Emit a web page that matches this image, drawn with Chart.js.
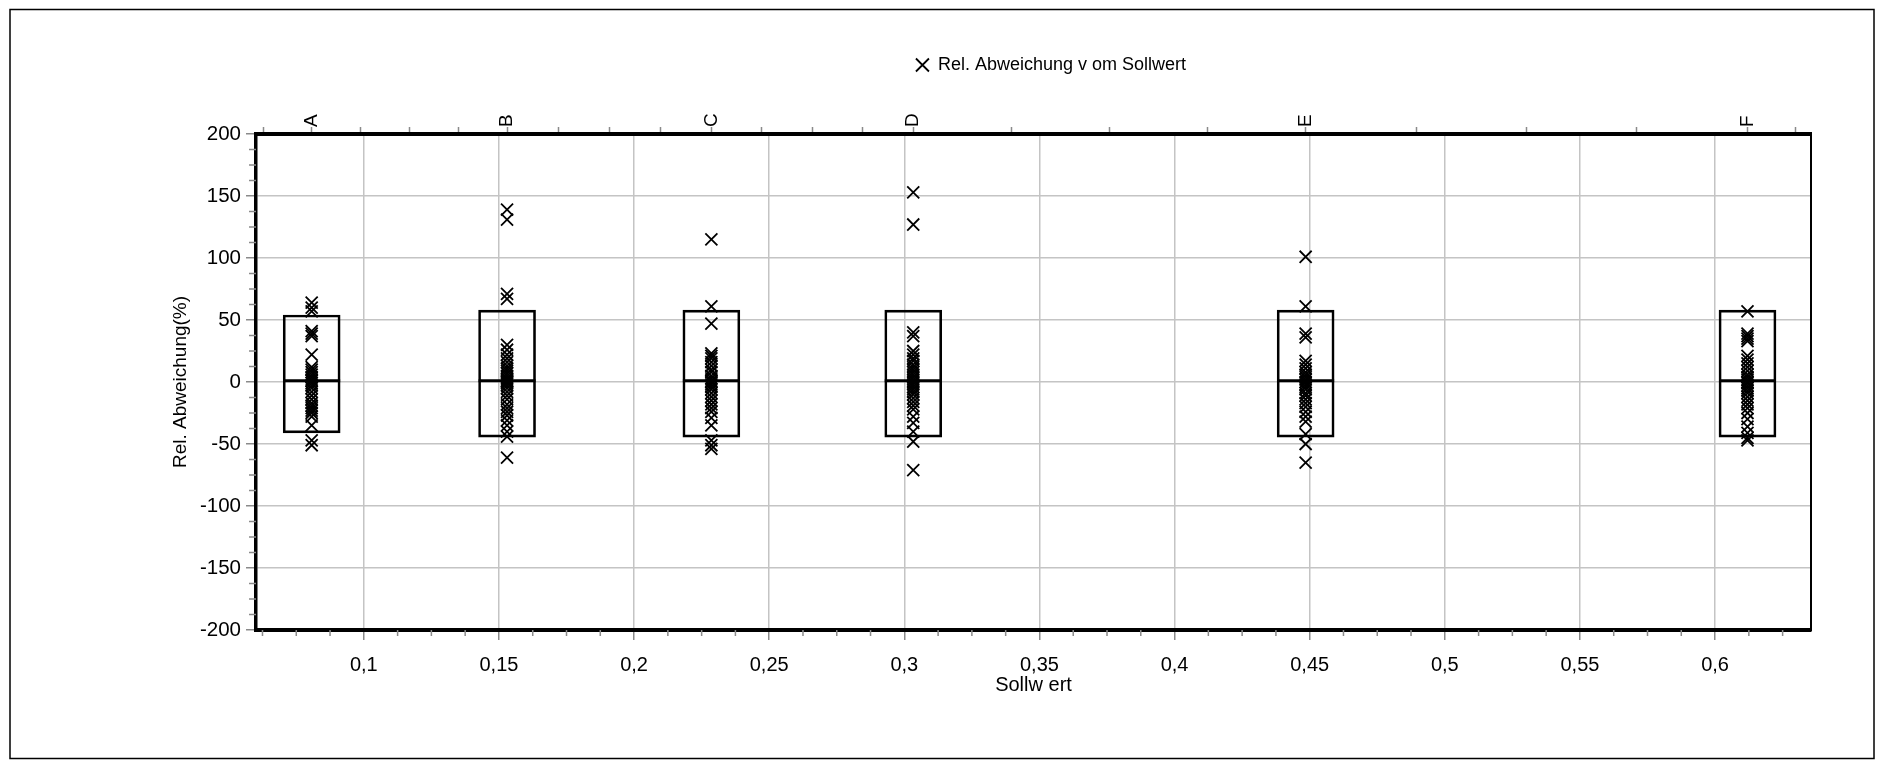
<!DOCTYPE html>
<html>
<head>
<meta charset="utf-8">
<script src="https://cdn.jsdelivr.net/npm/chart.js@4/dist/chart.umd.min.js"></script>
<style>
  html, body { margin: 0; padding: 0; background: #fff; }
  #chart { display: block; }
</style>
</head>
<body>
<canvas id="chart" width="1884" height="765"></canvas>
<script>
"use strict";

// categories (top axis) and their Sollwert positions
const categories = ["A", "B", "C", "D", "E", "F"];
const catX = [0.0807, 0.153, 0.2286, 0.3033, 0.4485, 0.612];

// relative deviation (%) per category
const devA = [64, 60, 57, 41, 39, 37, 22, 12, 10, 8, 6, 4, 2, 1, -1, -3, -5, -8, -11, -14, -17, -19, -21, -23, -25, -28, -35, -47, -51];
const devB = [139, 131, 71, 67, 30, 26, 22, 19, 16, 13, 11, 9, 7, 5, 3, 2, 1, 0, -1, -3, -5, -8, -11, -14, -18, -21, -24, -27, -31, -35, -40, -44, -61];
const devC = [115, 61, 47, 23, 21, 19, 16, 13, 10, 8, 5, 3, 1, 0, -2, -4, -6, -9, -12, -15, -18, -21, -24, -29, -35, -47, -51, -54];
const devD = [153, 127, 40, 37, 25, 22, 19, 17, 14, 12, 10, 8, 6, 4, 2, 0, -2, -4, -6, -8, -10, -13, -16, -19, -22, -28, -33, -40, -48, -71];
const devE = [101, 61, 39, 36, 17, 14, 11, 8, 6, 4, 2, 0, -2, -4, -6, -9, -11, -14, -17, -20, -24, -28, -32, -42, -50, -65];
const devF = [57, 39, 37, 35, 33, 21, 18, 15, 12, 9, 6, 4, 2, 0, -1, -3, -5, -7, -9, -12, -15, -18, -21, -25, -30, -36, -41, -45, -47];
const devAll = [devA, devB, devC, devD, devE, devF];

// boxes: lower / upper edge and median line
const boxLow = [-41, -44.5, -44.5, -44.5, -44.5, -44.5];
const boxHigh = [54, 58, 58, 58, 58, 58];
const boxMed = [1, 1, 1, 1, 1, 1];

// axes
const xTickValues = [0.1, 0.15, 0.2, 0.25, 0.3, 0.35, 0.4, 0.45, 0.5, 0.55, 0.6];
const yTickValues = [-200, -150, -100, -50, 0, 50, 100, 150, 200];
const topTickValues = [0.0629, 0.0807, 0.0988, 0.1169, 0.1349, 0.153, 0.1719, 0.1908, 0.2097, 0.2286,
  0.2473, 0.2659, 0.2846, 0.3033, 0.3396, 0.3759, 0.4122, 0.4485, 0.4894, 0.5303, 0.5711, 0.612, 0.6298];
const X_MIN = 0.0601, X_MAX = 0.6355;

const FONT = "'Liberation Sans', Arial, sans-serif";
const GRID = "#c4c4c4";
const TICK = "#8a8a8a";
const LEGEND_SHIFT = 17.5; // original legend sits a bit right of the plot centre

const markers = [];
devAll.forEach((arr, i) => arr.forEach((v) => markers.push({ x: catX[i], y: v })));
const boxes = catX.map((x, i) => ({ x, y: [boxLow[i], boxHigh[i]] }));
const medians = catX.map((x, i) => ({ x, y: boxMed[i] }));

const frame = {
  id: "frame",
  beforeDraw(c) {
    const { ctx } = c;
    ctx.save();
    ctx.fillStyle = "#fff";
    ctx.fillRect(0, 0, c.width, c.height);
    ctx.strokeStyle = "#000";
    ctx.lineWidth = 1.5;
    ctx.strokeRect(10, 9.5, 1864, 749);
    ctx.restore();
  },
};

const legendShift = {
  id: "legendShift",
  afterLayout(c) {
    if (!c.legend) return;
    c.legend.left += LEGEND_SHIFT;
    c.legend.right += LEGEND_SHIFT;
  },
};

const minorTicks = {
  id: "minorTicks",
  afterDraw(c) {
    const { ctx } = c;
    const x = c.scales.x, y = c.scales.y;
    ctx.save();
    ctx.strokeStyle = TICK;
    ctx.lineWidth = 1.5;
    ctx.beginPath();
    for (let k = 5; k <= 50; k++) {
      if (k % 4 === 0) continue;
      const px = x.getPixelForValue(k * 0.0125);
      ctx.moveTo(px, x.top);
      ctx.lineTo(px, x.top + 6);
    }
    for (let k = -16; k <= 16; k++) {
      if (k % 4 === 0) continue;
      const py = y.getPixelForValue(k * 12.5);
      ctx.moveTo(y.right - 7, py);
      ctx.lineTo(y.right, py);
    }
    ctx.stroke();
    ctx.restore();
  },
};

Chart.defaults.font.family = FONT;
Chart.defaults.color = "#000";

new Chart(document.getElementById("chart"), {
  type: "scatter",
  data: {
    datasets: [
      {
        label: "Rel. Abweichung v om Sollwert",
        data: markers,
        pointStyle: "crossRot",
        pointRadius: 8.5,
        pointHoverRadius: 8.5,
        borderColor: "#000",
        backgroundColor: "#000",
        borderWidth: 1.8,
        order: 0,
      },
      {
        label: "median",
        data: medians,
        pointStyle: "line",
        pointRadius: 28.5,
        pointHoverRadius: 28.5,
        borderColor: "#000",
        borderWidth: 3,
        order: 1,
      },
      {
        type: "bar",
        label: "box",
        data: boxes,
        barThickness: 57,
        grouped: false,
        backgroundColor: "rgba(0,0,0,0)",
        borderColor: "#000",
        borderWidth: 2,
        borderSkipped: false,
        order: 2,
      },
    ],
  },
  options: {
    responsive: false,
    animation: false,
    layout: { padding: { top: 46, left: 0, right: 0, bottom: 0 } },
    plugins: {
      tooltip: { enabled: false },
      legend: {
        position: "top",
        fullSize: false,
        labels: {
          filter: (item) => item.datasetIndex === 0,
          usePointStyle: true,
          boxWidth: 13,
          boxHeight: 13,
          padding: 10,
          color: "#000",
          font: { size: 18, family: FONT },
        },
      },
    },
    scales: {
      x: {
        type: "linear",
        position: "bottom",
        min: X_MIN,
        max: X_MAX,
        offset: false,
        afterBuildTicks: (s) => { s.ticks = xTickValues.map((v) => ({ value: v })); },
        afterFit: (s) => { s.height = 135; },
        ticks: {
          autoSkip: false,
          maxRotation: 0,
          padding: 13,
          font: { size: 20 },
          callback: (v) => String(v).replace(".", ","),
        },
        grid: { offset: false, color: GRID, lineWidth: 1.5, tickLength: 10, tickColor: TICK, tickWidth: 1.5 },
        border: { color: "#000", width: 4 },
        title: { display: true, text: "Sollw ert", font: { size: 20 }, padding: { top: 0, bottom: 68 } },
      },
      xTop: {
        type: "linear",
        position: "top",
        min: X_MIN,
        max: X_MAX,
        offset: false,
        afterBuildTicks: (s) => { s.ticks = topTickValues.map((v) => ({ value: v })); },
        afterFit: (s) => { s.height = 50; },
        ticks: {
          autoSkip: false,
          minRotation: 90,
          maxRotation: 90,
          padding: 0,
          labelOffset: 22.8,
          font: { size: 19 },
          callback: (v) => {
            const i = catX.indexOf(v);
            return i >= 0 ? categories[i] : "";
          },
        },
        grid: { offset: false, drawOnChartArea: false, tickLength: 7, tickColor: TICK, tickWidth: 1.5 },
        border: { color: "#000", width: 4 },
      },
      y: {
        type: "linear",
        position: "left",
        min: -200,
        max: 200,
        afterBuildTicks: (s) => { s.ticks = yTickValues.map((v) => ({ value: v })); },
        afterFit: (s) => { s.width = 256; },
        ticks: { autoSkip: false, padding: 5, font: { size: 20.5 } },
        grid: { color: GRID, lineWidth: 1.5, tickLength: 10, tickColor: TICK, tickWidth: 1.5 },
        border: { color: "#000", width: 3.5 },
        title: { display: true, text: "Rel. Abweichung(%)", font: { size: 19 }, padding: { top: 169, bottom: 0 } },
      },
      yRight: {
        type: "linear",
        position: "right",
        min: -200,
        max: 200,
        afterFit: (s) => { s.width = 73; },
        ticks: { display: false },
        grid: { drawOnChartArea: false, drawTicks: false },
        border: { color: "#000", width: 2 },
      },
    },
  },
  plugins: [frame, legendShift, minorTicks],
});
</script>
</body>
</html>
